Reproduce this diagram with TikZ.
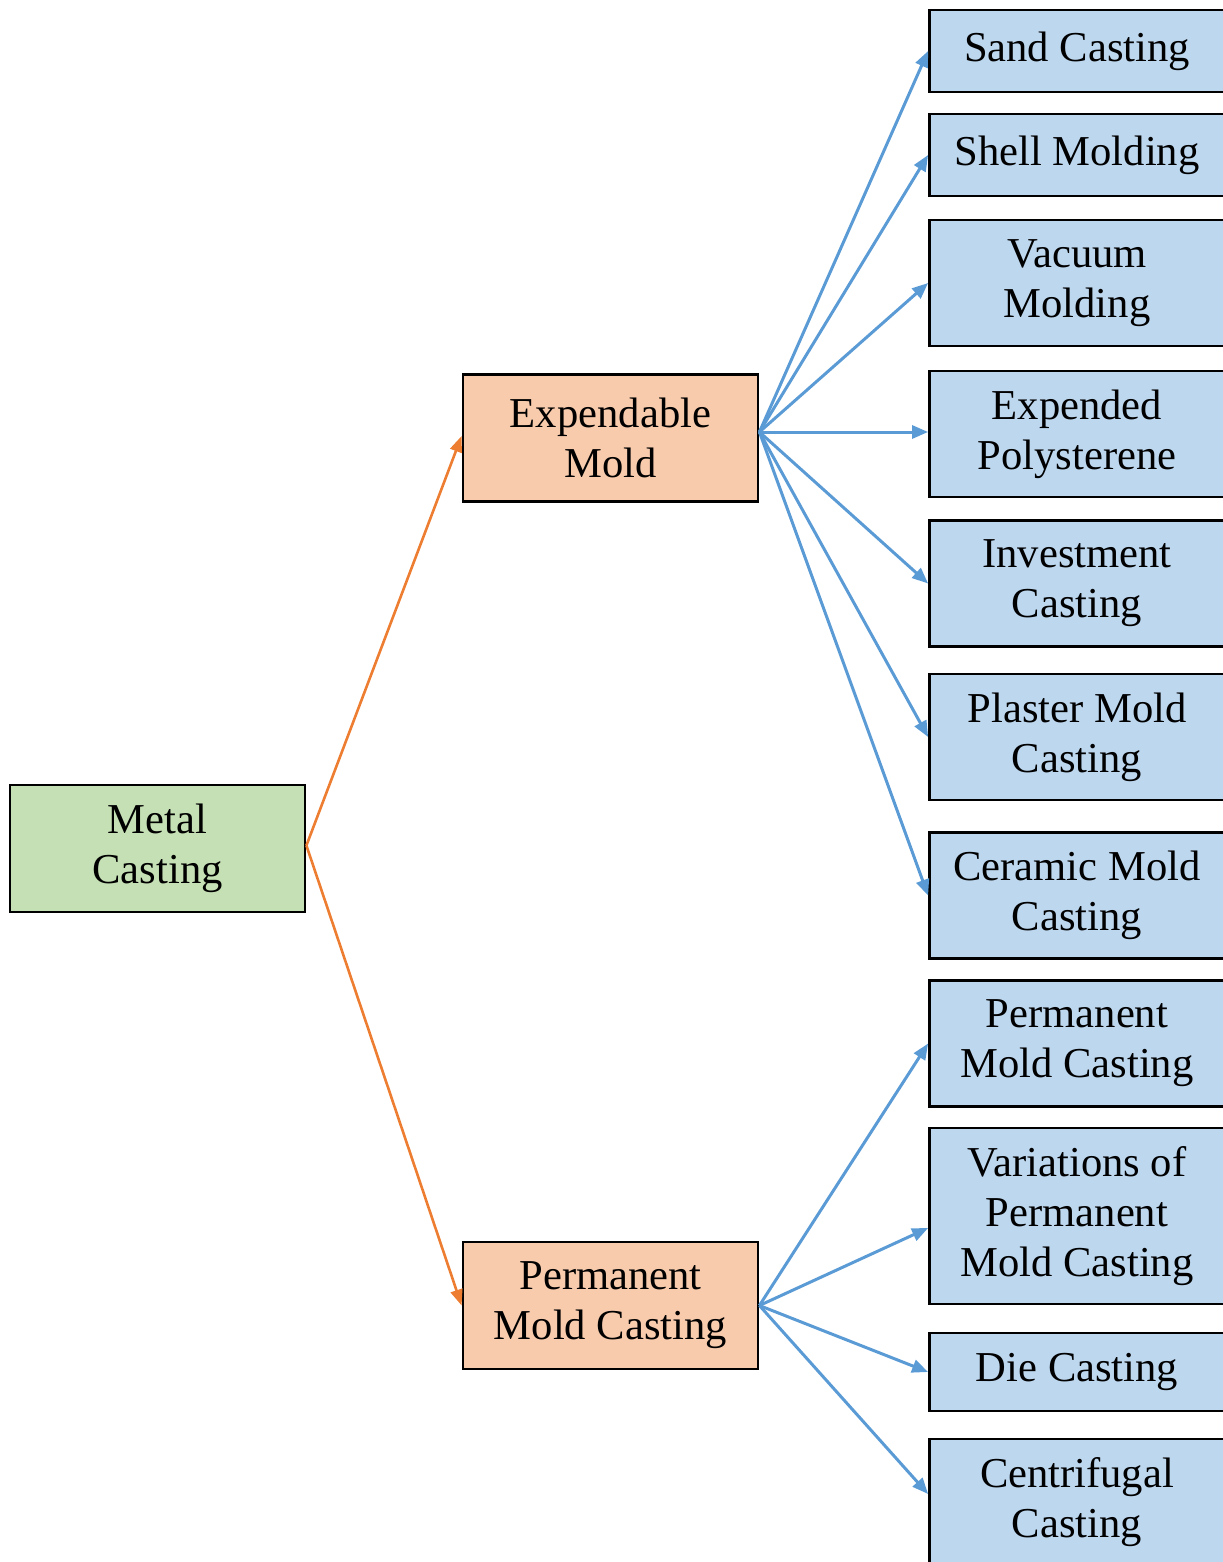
\documentclass[tikz,border=0pt]{standalone}
\usepackage{fontspec}
\setmainfont{Liberation Serif}
\usetikzlibrary{arrows.meta}
\definecolor{rootgreen}{HTML}{C5E0B4}
\definecolor{midorange}{HTML}{F8CBAD}
\definecolor{leafblue}{HTML}{BDD7EE}
\definecolor{linkblue}{HTML}{5B9BD5}
\definecolor{linkorange}{HTML}{ED7D31}
\tikzset{
  box/.style={draw=black, line width=1.4pt, minimum width=147.5pt, inner sep=0pt,
    align=center, font=\fontsize{21.3}{25}\selectfont},
  rootbox/.style={box, fill=rootgreen, minimum height=63.5pt},
  midbox/.style={box, fill=midorange, minimum height=63.5pt},
  leafbox/.style={box, fill=leafblue, minimum height=#1},
  leafbox/.default=63pt,
  toleaf/.style={draw=linkblue, line width=1.5pt, -{Triangle[length=8pt,width=6.5pt]}},
  tomid/.style={draw=linkorange, line width=1.3pt, -{Triangle[length=8pt,width=6pt]}}
}
\begin{document}
\begin{tikzpicture}[x=0.5pt,y=-0.5pt]
    \useasboundingbox (0,0) rectangle (1222,1562);
    % main levels
    \node[rootbox] (metal) at (157.5,848.5) {Metal\\Casting};
    \node[midbox] (expend) at (610.5,438) {Expendable\\Mold};
    \node[midbox] (perm) at (610.5,1305.5) {Permanent\\Mold Casting};
    % expendable mold processes
    \node[leafbox=41pt] (sand) at (1077,51) {Sand Casting};
    \node[leafbox=41pt] (shell) at (1077,155) {Shell Molding};
    \node[leafbox] (vacuum) at (1077,283) {Vacuum\\Molding};
    \node[leafbox] (eps) at (1077,434) {Expended\\Polysterene};
    \node[leafbox] (invest) at (1077,583.5) {Investment\\Casting};
    \node[leafbox] (plaster) at (1077,737) {Plaster Mold\\Casting};
    \node[leafbox] (ceramic) at (1077,895.5) {Ceramic Mold\\Casting};
    % permanent mold processes
    \node[leafbox] (pmc) at (1077,1043.5) {Permanent\\Mold Casting};
    \node[leafbox=88pt] (vpmc) at (1077,1216) {Variations of\\Permanent\\Mold Casting};
    \node[leafbox=39pt] (die) at (1077,1372) {Die Casting};
    \node[leafbox] (centri) at (1077,1502) {Centrifugal\\Casting};
    % connectors
    \draw[tomid] ([yshift=1.5pt]metal.east) -- ([yshift=1pt]expend.west);
    \draw[tomid] ([yshift=1.5pt]metal.east) -- (perm.west);
    \foreach \leaf in {sand,shell,vacuum,invest,plaster,ceramic}
        \draw[toleaf] ([yshift=3pt]expend.east) -- (\leaf.west);
    \draw[toleaf] ([yshift=3pt]expend.east) -- ([yshift=1pt]eps.west);
    \draw[toleaf] (perm.east) -- (pmc.west);
    \draw[toleaf] (perm.east) -- ([yshift=-6pt]vpmc.west);
    \draw[toleaf] (perm.east) -- (die.west);
    \draw[toleaf] (perm.east) -- ([yshift=4pt]centri.west);
\end{tikzpicture}
\end{document}
